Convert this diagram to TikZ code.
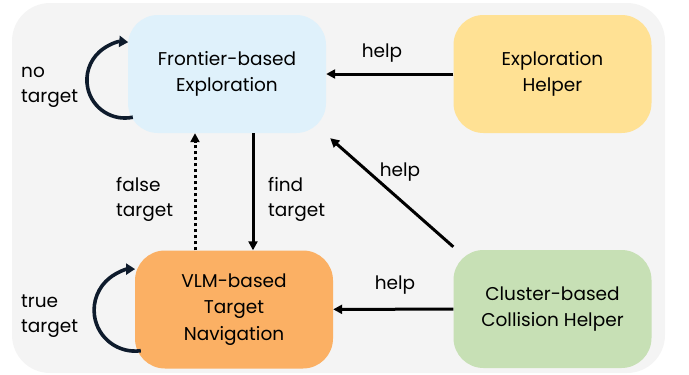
\documentclass[tikz,border=0pt]{standalone}
\usepackage{fontspec}
\setmainfont{Poppins}
\usetikzlibrary{arrows.meta}
\definecolor{panelbg}{HTML}{F4F4F4}
\definecolor{exploreblue}{HTML}{DFF1FB}
\definecolor{helperyellow}{HTML}{FFE194}
\definecolor{vlmorange}{HTML}{FBB064}
\definecolor{clustergreen}{HTML}{C7E0B5}
\definecolor{loopnavy}{HTML}{0E1B2C}
\tikzset{
  statebox/.style={rectangle, rounded corners=30pt, minimum width=198pt,
    minimum height=118pt, align=center, inner sep=0pt,
    font=\fontsize{18.5}{26.5}\selectfont},
  edgelabel/.style={font=\fontsize{18.5}{25}\selectfont, inner sep=0pt},
  sidelabel/.style={edgelabel, anchor=west, align=left},
  arr/.style={line width=3pt, -{Triangle[length=9pt,width=9pt]}},
  dotarr/.style={arr, line cap=butt, dash pattern=on 3pt off 3pt},
  selfloop/.style={line width=3.6pt, loopnavy, -{Triangle[length=9pt,width=11pt]}}
}
\begin{document}
\begin{tikzpicture}[x=1pt, y=-1pt]
  \useasboundingbox (0,0) rectangle (689,375);
  \fill[panelbg, rounded corners=38pt] (12,3) rectangle (665,373);

  % states
  \node[statebox, fill=exploreblue] (fe) at (227,74) {Frontier-based\\Exploration};
  \node[statebox, fill=helperyellow] (eh) at (552.5,74) {Exploration\\Helper};
  \node[statebox, fill=vlmorange] (vlm) at (234,309.5) {VLM-based\\Target\\Navigation};
  \node[statebox, fill=clustergreen] (cl) at (552.5,309) {Cluster-based\\Collision Helper};

  % helper edges
  \draw[arr] (eh) -- (fe);
  \node[edgelabel] (l1) at (382,53) {help};
  \draw[arr] ([shift={(0,-3)}]cl.north west) -- ([shift={(4,5)}]fe.south east);
  \node[edgelabel] (l2) at (400,172) {help};
  \draw[arr] (cl) -- (vlm);
  \node[edgelabel] (l3) at (395,285) {help};

  % transitions between the two main states
  \draw[arr] ([xshift=26pt]fe.south) -- ([xshift=19pt]vlm.north);
  \node[sidelabel] (l4) at (268,199) {find\\target};
  \draw[dotarr] ([xshift=-39pt]vlm.north) -- ([xshift=-32pt]fe.south);
  \node[sidelabel] (l5) at (116,199) {false\\target};

  % self loops
  \draw[selfloop] ([shift={(5,-16)}]fe.south west) arc[start angle=78, end angle=275, radius=38];
  \node[sidelabel] (l6) at (21,87) {no\\target};
  \draw[selfloop] ([shift={(6,-18)}]vlm.south west) arc[start angle=82, end angle=270, radius=41];
  \node[sidelabel] (l7) at (21,316) {true\\target};
\end{tikzpicture}
\end{document}
